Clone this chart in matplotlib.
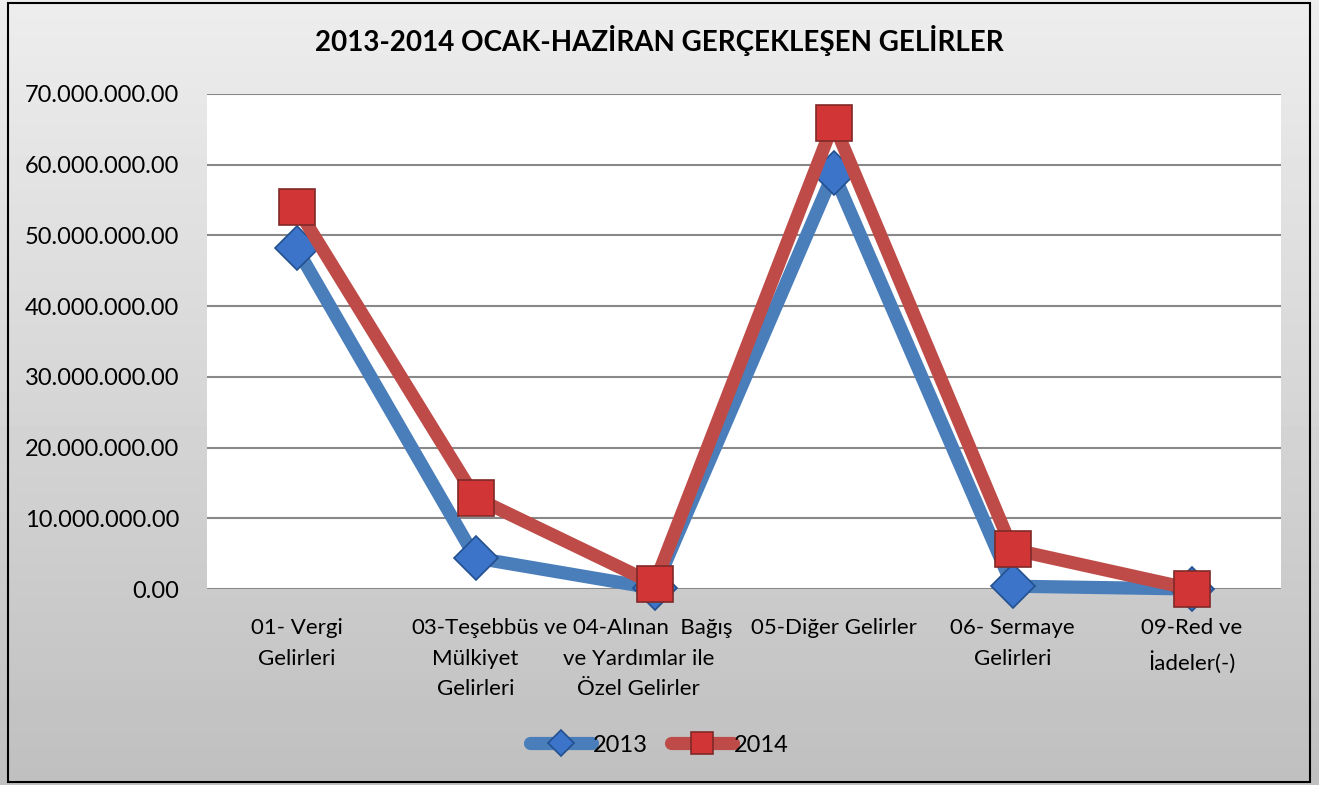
import numpy as np
import matplotlib
matplotlib.use("Agg")
from matplotlib import pyplot as plt
from matplotlib.patches import Rectangle
from matplotlib.ticker import FuncFormatter
from matplotlib.transforms import ScaledTranslation

categories = [
    "01- Vergi\nGelirleri",
    "03-Teşebbüs\nMülkiyet\nGelirleri",
    "ve 04-Alınan  Bağış\nve Yardımlar ile\nÖzel Gelirler",
    "05-Diğer Gelirler",
    "06- Sermaye\nGelirleri",
    "09-Red ve\nİadeler(-)",
]
values_2013 = [48.2e6, 4.4e6, 0.1e6, 58.8e6, 0.4e6, 0.0]
values_2014 = [54.0e6, 12.9e6, 0.7e6, 65.9e6, 5.6e6, 0.0]
title = "2013-2014 OCAK-HAZİRAN GERÇEKLEŞEN GELİRLER"

plt.rcParams['font.family'] = ['Lato', 'DejaVu Sans']

fig = plt.figure(figsize=(13.19, 7.85), dpi=100)

# gray gradient background of the chart area
bg = fig.add_axes([0, 0, 1, 1], zorder=-10)
grad = np.linspace(0.93, 0.75, 256).reshape(-1, 1)
bg.imshow(grad, aspect='auto', cmap='gray', vmin=0, vmax=1,
          extent=[0, 1, 0, 1])
bg.set_xlim(0, 1)
bg.set_ylim(0, 1)
bg.axis('off')
fig.patches.append(Rectangle((8 / 1319, 3 / 785), 1302 / 1319, 779 / 785,
                             transform=fig.transFigure, fill=False,
                             edgecolor='black', linewidth=1.5, zorder=5))

ax = fig.add_axes([207 / 1319, 196 / 785, 1074 / 1319, 495 / 785])
ax.set_facecolor('white')

x = np.arange(len(categories))
ax.plot(x, values_2013, color='#4a7ebb', linewidth=9.5, solid_capstyle='round',
        marker='D', markersize=22, markerfacecolor='#3b74c9',
        markeredgecolor='#24508f', markeredgewidth=1.2, label='2013',
        zorder=3, clip_on=False)
ax.plot(x, values_2014, color='#be4b48', linewidth=9.5, solid_capstyle='round',
        marker='s', markersize=26, markerfacecolor='#d13535',
        markeredgecolor='#7f2a28', markeredgewidth=1.2, label='2014',
        zorder=4, clip_on=False)

ax.set_xlim(-0.5, len(categories) - 0.5)
ax.set_ylim(0, 70e6)
ax.set_yticks(np.arange(0, 70e6 + 1, 10e6))
ax.yaxis.set_major_formatter(FuncFormatter(
    lambda v, p: "{:,.2f}".format(v).replace(",", ".")))
ax.grid(axis='y', color='#888888', linewidth=1.5, zorder=0)
ax.set_axisbelow(True)
for s in ax.spines.values():
    s.set_visible(False)
ax.tick_params(axis='y', length=0, pad=20, labelsize=17)
ax.tick_params(axis='x', length=0, pad=21, labelsize=16)
ax.set_xticks(x)
ax.set_xticklabels(categories, linespacing=1.65)

# the long third label sits a bit left of its category, as in the original
lbl = ax.get_xticklabels()[2]
lbl.set_transform(lbl.get_transform() +
                  ScaledTranslation(-16 / 100, 0, fig.dpi_scale_trans))

fig.text(0.5, 1 - 40 / 785, title, ha='center', va='center',
         fontsize=20, fontweight='bold')

leg = fig.legend(loc='center', bbox_to_anchor=(0.5, 1 - 745 / 785), ncol=2,
                 frameon=False, fontsize=17, handlelength=2.6,
                 handletextpad=0.05, columnspacing=1.0, markerscale=0.6)

fig.savefig("out.png", dpi=100)
